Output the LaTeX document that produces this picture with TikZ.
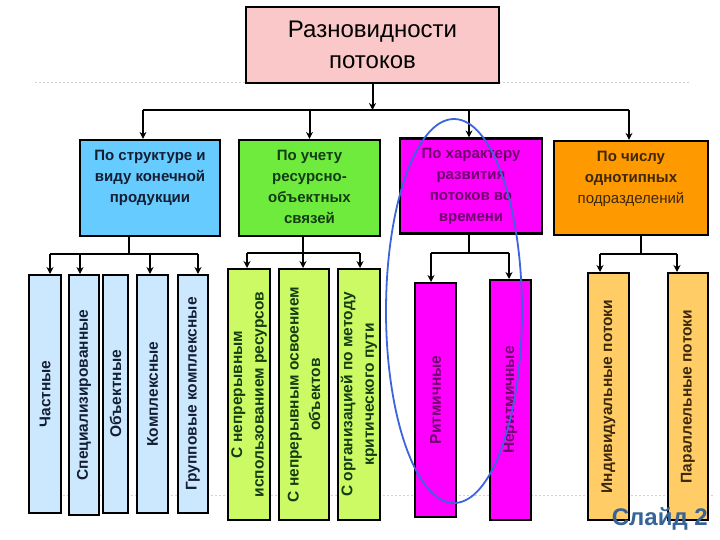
\documentclass[tikz,border=0pt]{standalone}
\usepackage{fontspec}
\setmainfont{Liberation Sans}
\usetikzlibrary{arrows.meta}
\definecolor{titlefill}{RGB}{250,200,200}
\definecolor{bluebox}{RGB}{102,204,255}
\definecolor{greenbox}{RGB}{110,235,60}
\definecolor{magbox}{RGB}{255,0,255}
\definecolor{orangebox}{RGB}{255,153,0}
\definecolor{blueleaf}{RGB}{204,232,255}
\definecolor{greenleaf}{RGB}{204,250,100}
\definecolor{orangeleaf}{RGB}{255,204,102}
\definecolor{bluetext}{RGB}{20,30,50}
\definecolor{greentext}{RGB}{20,60,20}
\definecolor{magtext}{RGB}{110,0,110}
\definecolor{orangetext}{RGB}{60,40,10}
\definecolor{ellcol}{RGB}{60,100,220}
\definecolor{slidecol}{RGB}{55,100,150}
\tikzset{
  box/.style={draw=black, line width=2.2pt, inner sep=0pt},
  l2text/.style={anchor=north, inner sep=0pt, align=center, font=\fontsize{15}{21}\selectfont\bfseries},
  leaf/.style={draw=black, line width=2pt, rotate=90, inner sep=0pt, align=center,
    font=\fontsize{15.5}{21.5}\selectfont\bfseries},
  conn/.style={draw=black, line width=2pt},
  arr/.style={conn, -{Stealth[length=7pt,width=7pt]}},
  guide/.style={draw=black!18, line width=0.9pt, dash pattern=on 2pt off 2pt},
}
\begin{document}
\begin{tikzpicture}[x=1pt,y=-1pt]
\useasboundingbox (0,0) rectangle (720,540);
% guide lines
\draw[guide] (35,82) -- (690,82);
\draw[guide] (35,495) -- (715,495);

% title
\node[box, fill=titlefill, minimum width=253pt, minimum height=76pt, align=center,
  font=\fontsize{24}{31}\selectfont] (title) at (372.5,45) {Разновидности\\потоков};

% level 2
\node[box, fill=bluebox, minimum width=140pt, minimum height=96pt] (blue) at (150,188) {};
\node[box, fill=greenbox, minimum width=141pt, minimum height=96pt] (green) at (309.5,188) {};
\node[box, fill=magbox, minimum width=142pt, minimum height=95pt] (mag) at (471,186) {};
\node[box, fill=orangebox, minimum width=154pt, minimum height=94pt] (orange) at (631,188) {};

\node[l2text, text=bluetext] (bluet) at ([yshift=-11pt]blue.north) {По структуре и\\виду конечной\\продукции};
\node[l2text, text=greentext] (greent) at ([yshift=-11pt]green.north) {По учету\\ресурсно-\\объектных\\связей};
\node[l2text, text=magtext] (magt) at ([yshift=-11pt]mag.north) {По характеру\\развития\\потоков во\\времени};
\node[l2text, text=orangetext] (oranget) at ([yshift=-11pt]orange.north) {По числу\\однотипных\\{\mdseries подразделений}};

% top connectors
\coordinate (tb) at (373,110);
\coordinate (tbL) at (143,110);
\coordinate (tbR) at (629,110);
\draw[arr] (title.south) -- (title.south |- tb);
\draw[conn] (tbL) -- (tbR);
\draw[arr] ([xshift=-7pt]blue.north |- tb) -- ([xshift=-7pt]blue.north);
\draw[arr] (green.north |- tb) -- (green.north);
\draw[arr] ([xshift=-2pt]mag.north |- tb) -- ([xshift=-2pt]mag.north);
\draw[arr] ([xshift=-2pt]orange.north |- tb) -- ([xshift=-2pt]orange.north);

% leaves: blue
\node[leaf, fill=blueleaf, text=bluetext, minimum width=238pt, minimum height=32pt] (l11) at (45,394) {Частные};
\node[leaf, fill=blueleaf, text=bluetext, minimum width=240pt, minimum height=30pt] (l12) at (84,395) {Специализированные};
\node[leaf, fill=blueleaf, text=bluetext, minimum width=238pt, minimum height=25pt] (l13) at (115.5,394) {Объектные};
\node[leaf, fill=blueleaf, text=bluetext, minimum width=238pt, minimum height=31pt] (l14) at (152.5,394) {Комплексные};
\node[leaf, fill=blueleaf, text=bluetext, minimum width=238pt, minimum height=30pt] (l15) at (193,394) {Групповые комплексные};
% leaves: green
\node[leaf, fill=greenleaf, text=greentext, minimum width=251pt, minimum height=42pt] (l21) at (249,394.5) {С непрерывным\\использованием ресурсов};
\node[leaf, fill=greenleaf, text=greentext, minimum width=251pt, minimum height=50pt] (l22) at (304,394.5) {С непрерывным освоением\\объектов};
\node[leaf, fill=greenleaf, text=greentext, minimum width=251pt, minimum height=42pt] (l23) at (359,394.5) {С организацией по методу\\критического пути};
% leaves: magenta
\node[leaf, fill=magbox, text=magtext, minimum width=234pt, minimum height=41pt] (l31) at (435.5,400) {Ритмичные};
\node[leaf, fill=magbox, text=magtext, minimum width=240pt, minimum height=41pt] (l32) at (510.5,400) {Неритмичные};
% leaves: orange
\node[leaf, fill=orangeleaf, text=orangetext, minimum width=247pt, minimum height=41pt] (l41) at (608.5,396.5) {Индивидуальные потоки};
\node[leaf, fill=orangeleaf, text=orangetext, minimum width=247pt, minimum height=40pt] (l42) at (688,396.5) {Параллельные потоки};

% blue sub-tree
\coordinate (bb) at (129,254);
\draw[conn] (blue.south -| bb) -- (bb);
\draw[conn] ([xshift=5pt]l11.east |- bb) -- ([xshift=5pt]l15.east |- bb);
\draw[arr] ([xshift=5pt]l11.east |- bb) -- ([xshift=5pt]l11.east);
\draw[arr] ([xshift=-4pt]l12.east |- bb) -- ([xshift=-4pt]l12.east);
\draw[arr] ([xshift=-2.5pt]l14.east |- bb) -- ([xshift=-2.5pt]l14.east);
\draw[arr] ([xshift=5pt]l15.east |- bb) -- ([xshift=5pt]l15.east);

% green sub-tree
\coordinate (gb) at (303,253);
\draw[conn] (green.south -| gb) -- (gb);
\draw[conn] ([xshift=-2pt]l21.east |- gb) -- ([xshift=1pt]l23.east |- gb);
\draw[arr] ([xshift=-2pt]l21.east |- gb) -- ([xshift=-2pt]l21.east);
\draw[arr] ([xshift=-1pt]l22.east |- gb) -- ([xshift=-1pt]l22.east);
\draw[arr] ([xshift=1pt]l23.east |- gb) -- ([xshift=1pt]l23.east);

% magenta sub-tree
\coordinate (mb) at (469,253);
\draw[conn] (mag.south -| mb) -- (mb);
\draw[conn] ([xshift=-4.5pt]l31.east |- mb) -- ([xshift=-1.5pt]l32.east |- mb);
\draw[arr] ([xshift=-4.5pt]l31.east |- mb) -- ([xshift=-4.5pt]l31.east);
\draw[arr] ([xshift=-1.5pt]l32.east |- mb) -- ([xshift=-1.5pt]l32.east);

% orange sub-tree
\coordinate (ob) at (641,254);
\draw[conn] (orange.south -| ob) -- (ob);
\draw[conn] ([xshift=-8.5pt]l41.east |- ob) -- ([xshift=-11pt]l42.east |- ob);
\draw[arr] ([xshift=-8.5pt]l41.east |- ob) -- ([xshift=-8.5pt]l41.east);
\draw[arr] ([xshift=-11pt]l42.east |- ob) -- ([xshift=-11pt]l42.east);

% highlight ellipse
\draw[ellcol, line width=1.8pt] (454,311) ellipse [x radius=68, y radius=192];

% slide label
\node[anchor=base east, inner sep=0pt, text=slidecol, font=\fontsize{24}{28}\selectfont\bfseries] (slide) at (708,525) {Слайд 2};
\end{tikzpicture}
\end{document}
